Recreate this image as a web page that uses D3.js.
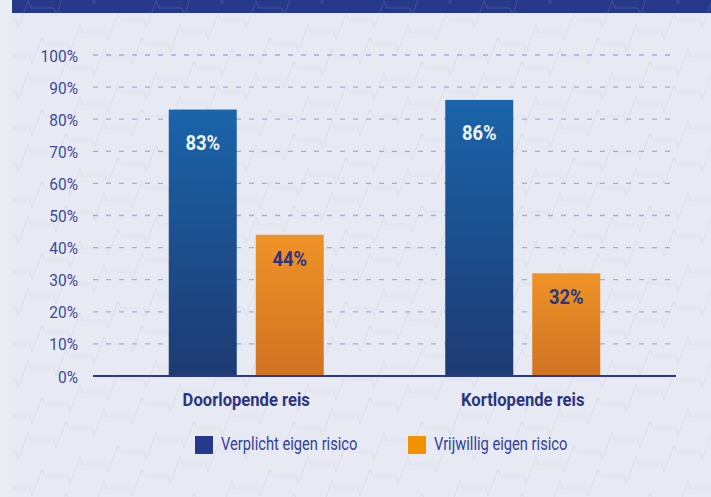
<!DOCTYPE html>
<html>
<head>
<meta charset="utf-8">
<script src="https://cdn.jsdelivr.net/npm/d3@7"></script>
<style>
  html, body { margin: 0; padding: 0; background: #e8eaf3; }
  svg { display: block; }
</style>
</head>
<body>
<svg id="chart" width="711" height="497"></svg>
<script>
const categories = ['Doorlopende reis', 'Kortlopende reis'];
const series = ['Verplicht eigen risico', 'Vrijwillig eigen risico'];
const verplicht = [83, 86];
const vrijwillig = [44, 32];
const yTicks = [0, 10, 20, 30, 40, 50, 60, 70, 80, 90, 100];

const W = 711, H = 497;
const font = "Roboto, 'Liberation Sans', sans-serif";
const navy = '#33409a';

const svg = d3.select('#chart');
const defs = svg.append('defs');

// narrow the text horizontally, the original uses a condensed face
function condense(sel, x, y, sx) {
  sel.attr('x', 0).attr('y', 0)
    .attr('transform', (d, i) => `translate(${x(d, i)},${y(d, i)}) scale(${sx},1)`);
}

const gBlue = defs.append('linearGradient').attr('id', 'gBlue').attr('x1', 0).attr('y1', 0).attr('x2', 0).attr('y2', 1);
gBlue.append('stop').attr('offset', '0%').attr('stop-color', '#1a64aa');
gBlue.append('stop').attr('offset', '100%').attr('stop-color', '#1e3a72');
const gOrange = defs.append('linearGradient').attr('id', 'gOrange').attr('x1', 0).attr('y1', 0).attr('x2', 0).attr('y2', 1);
gOrange.append('stop').attr('offset', '0%').attr('stop-color', '#ef9327');
gOrange.append('stop').attr('offset', '100%').attr('stop-color', '#d07222');

// background
svg.append('rect').attr('width', W).attr('height', H).attr('fill', '#e8eaf3');
svg.append('rect').attr('width', 12).attr('height', H).attr('fill', '#eaecf4');
svg.append('rect').attr('x', 12).attr('width', W - 12).attr('height', 13).attr('fill', '#25388a');

// decorative heartbeat lines
defs.append('clipPath').attr('id', 'bgClip').append('rect').attr('x', 12).attr('y', 13).attr('width', W - 12).attr('height', H - 13);
defs.append('clipPath').attr('id', 'bandClip').append('rect').attr('x', 12).attr('y', 0).attr('width', W - 12).attr('height', 13);

function beatPath(y0, x0) {
  let p = [], x = x0, y = y0;
  p.push([x, y]);
  while (x < W + 40) {
    x += 10; y -= 27; p.push([x, y]);
    x += 3; y += 7; p.push([x, y]);
    x += 23; p.push([x, y]);
    x += 2; y += 8; p.push([x, y]);
  }
  return d3.line()(p);
}
const rows = d3.range(-6, 30);
['bgClip', 'bandClip'].forEach(c => {
  svg.append('g').attr('clip-path', `url(#${c})`)
    .selectAll('path').data(rows).enter().append('path')
    .attr('d', i => beatPath(i * 36 + 40, -20 + (i % 2) * 14))
    .attr('fill', 'none')
    .attr('stroke', c === 'bgClip' ? '#dcdfeb' : '#43549c')
    .attr('stroke-width', 1);
});

const margin = {left: 93, right: 38, top: 55, bottom: 121};
const y = d3.scaleLinear().domain([0, 100]).range([H - margin.bottom, margin.top]);
const x0 = d3.scaleBand().domain(categories).range([108, 661]);
const x1 = d3.scaleBand().domain(series)
  .range([(x0.bandwidth() - 155) / 2, (x0.bandwidth() + 155) / 2])
  .paddingInner(0.2184);

// gridlines
svg.append('g').selectAll('line').data(yTicks.filter(d => d > 0)).enter().append('line')
  .attr('x1', margin.left).attr('x2', 673)
  .attr('y1', d => y(d)).attr('y2', d => y(d))
  .attr('stroke', '#a9a9d9').attr('stroke-width', 1.3)
  .attr('stroke-dasharray', '5,8');

// y axis labels
const yAxis = svg.append('g').attr('transform', `translate(${margin.left},0)`)
  .call(d3.axisLeft(y).tickValues(yTicks).tickSize(0).tickFormat(d => d + '%'));
yAxis.select('.domain').remove();
yAxis.selectAll('text')
  .attr('fill', '#3d4a9a').attr('dy', null)
  .style('font-family', font).style('font-size', '17px')
  .call(condense, () => -15, () => 6, 0.91);

// bars
const data = categories.map((c, i) => ({cat: c, values: [
  {s: series[0], v: verplicht[i]},
  {s: series[1], v: vrijwillig[i]}
]}));

const groups = svg.append('g').selectAll('g').data(data).enter().append('g')
  .attr('transform', d => `translate(${x0(d.cat)},0)`);

groups.selectAll('rect').data(d => d.values).enter().append('rect')
  .attr('x', d => x1(d.s))
  .attr('y', d => y(d.v))
  .attr('width', x1.bandwidth())
  .attr('height', d => y(0) - y(d.v))
  .attr('fill', (d, i) => i === 0 ? 'url(#gBlue)' : 'url(#gOrange)');

groups.selectAll('text.val').data(d => d.values).enter().append('text')
  .attr('class', 'val')
  .attr('text-anchor', 'middle')
  .attr('fill', (d, i) => i === 0 ? '#f2f3f8' : '#2b3580')
  .style('font-family', font).style('font-size', '20px').style('font-weight', 'bold')
  .text(d => d.v + '%')
  .call(condense, d => x1(d.s) + x1.bandwidth() / 2, (d, i) => y(d.v) + (i === 0 ? 40 : 31), 0.92);

// baseline
svg.append('line')
  .attr('x1', margin.left).attr('x2', 676)
  .attr('y1', y(0)).attr('y2', y(0))
  .attr('stroke', '#2b3990').attr('stroke-width', 2);

// category labels
svg.append('g').selectAll('text').data(categories).enter().append('text')
  .attr('text-anchor', 'middle')
  .attr('fill', '#2b3580')
  .style('font-family', font).style('font-size', '17.5px').style('font-weight', 'bold')
  .text(d => d)
  .call(condense, d => x0(d) + x0.bandwidth() / 2, () => 406, 0.95);

// legend
const legendColors = ['#263a8c', '#f39200'];
const legendX = [195, 408];
const legend = svg.append('g').selectAll('g').data(series).enter().append('g')
  .attr('transform', (d, i) => `translate(${legendX[i]},436)`);
legend.append('rect').attr('width', 18).attr('height', 18).attr('fill', (d, i) => legendColors[i]);
legend.append('text')
  .attr('fill', navy)
  .style('font-family', font).style('font-size', '17.5px')
  .text(d => d)
  .call(condense, () => 26, () => 14, 0.84);
</script>
</body>
</html>
